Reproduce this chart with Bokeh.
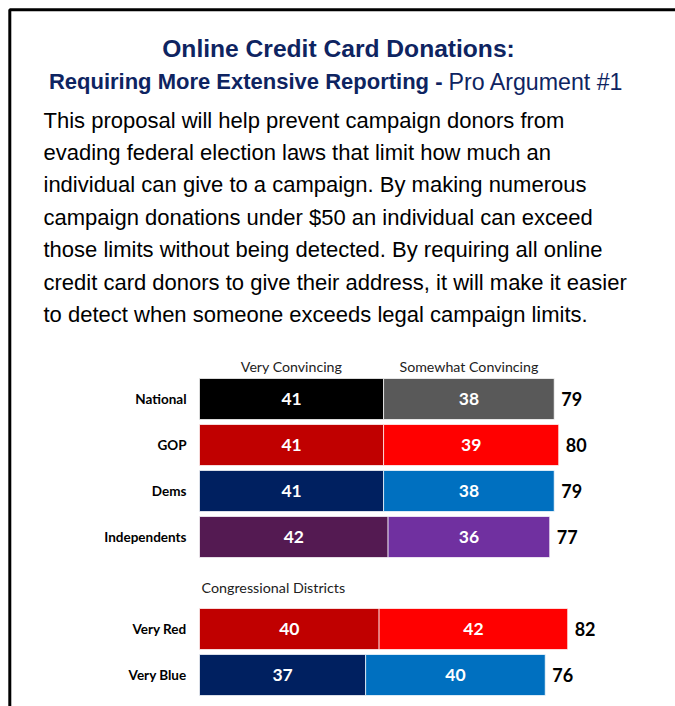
from bokeh.plotting import figure
from bokeh.models import Range1d, Label, BoxAnnotation, ColumnDataSource
from bokeh.core.properties import value
from bokeh.embed import file_html
from bokeh.resources import INLINE

# ---------------- data ----------------
groups = ["National", "GOP", "Dems", "Independents", "Very Red", "Very Blue"]
very = [41, 41, 41, 42, 40, 37]
somewhat = [38, 39, 38, 36, 42, 40]
totals = [79, 80, 79, 77, 82, 76]
series_names = ["Very Convincing", "Somewhat Convincing"]
section_label = "Congressional Districts"

title = "Online Credit Card Donations:"
subtitle_bold = "Requiring More Extensive Reporting -"
subtitle_normal = "Pro Argument #1"
body_lines = [
    "This proposal will help prevent campaign donors from",
    "evading federal election laws that limit how much an",
    "individual can give to a campaign. By making numerous",
    "campaign donations under $50 an individual can exceed",
    "those limits without being detected.  By requiring all online",
    "credit card donors to give their address, it will make it easier",
    "to detect when someone exceeds legal campaign limits.",
]

# ---------------- styles / layout ----------------
very_colors = ["#000000", "#C00000", "#002060", "#541A52", "#C00000", "#002060"]
some_colors = ["#595959", "#FF0000", "#0070C0", "#7030A0", "#FF0000", "#0070C0"]
slots = [0, 1, 2, 3, 5, 6]

W, H = 675, 706
px_per_unit = 4.49
x0_px = 199.0
row0 = 398.5
pitch = 46.0
bar_h = 41.0

x_start = -x0_px / px_per_unit
x_end = (W - x0_px) / px_per_unit

p = figure(width=W, height=H, x_range=Range1d(x_start, x_end), y_range=Range1d(H, 0),
           output_backend="svg", toolbar_location=None, min_border=0,
           x_axis_type=None, y_axis_type=None)
p.grid.visible = False
p.outline_line_color = None
p.background_fill_color = "white"
p.border_fill_color = "white"

ys = [row0 + pitch * s for s in slots]

seg = ColumnDataSource(dict(
    y=ys + ys,
    left=[0] * len(very) + very,
    right=very + [v + s for v, s in zip(very, somewhat)],
    color=very_colors + some_colors,
    label=[str(v) for v in very] + [str(s) for s in somewhat],
    mid=[v / 2 for v in very] + [v + s / 2 for v, s in zip(very, somewhat)],
))
p.hbar(y="y", left="left", right="right", height=bar_h, fill_color="color",
       line_color="white", line_alpha=0.7, line_width=1, source=seg)
p.text(x="mid", y="y", text="label", source=seg, text_color="white",
       text_font=value("Lato"), text_font_style="bold", text_font_size="17.5px",
       text_align="center", text_baseline="middle")

tot = ColumnDataSource(dict(
    y=ys, x=[v + s for v, s in zip(very, somewhat)], label=[str(t) for t in totals]))
p.text(x="x", y="y", text="label", source=tot, x_offset=7, text_color="black",
       text_font=value("Lato"), text_font_style="bold", text_font_size="18px",
       text_align="left", text_baseline="middle")

cat = ColumnDataSource(dict(y=ys, x=[0] * len(ys), label=groups))
p.text(x="x", y="y", text="label", source=cat, x_offset=-13, text_color="black",
       text_font=value("Lato"), text_font_style="bold", text_font_size="13.5px",
       text_align="right", text_baseline="middle")

hdr = ColumnDataSource(dict(
    x=[very[0] / 2, very[0] + somewhat[0] / 2],
    y=[ys[0] - 33] * 2, label=series_names))
p.text(x="x", y="y", text="label", source=hdr, text_color="#222222",
       text_font=value("Lato"), text_font_size="14.2px",
       text_align="center", text_baseline="middle")

p.add_layout(Label(x=x0_px + 2, y=587, x_units="screen", y_units="data", text=section_label,
                   text_font="Lato", text_font_size="14.3px", text_color="#222222",
                   text_align="left", text_baseline="middle"))

# titles
navy = "#0E2461"
p.add_layout(Label(x=338, y=48, x_units="screen", y_units="data", text=title,
                   text_font="Liberation Sans", text_font_style="bold", text_font_size="24.6px",
                   text_color=navy, text_align="center", text_baseline="middle"))
p.add_layout(Label(x=442, y=81, x_units="screen", y_units="data", text=subtitle_bold,
                   text_font="Liberation Sans", text_font_style="bold", text_font_size="22px",
                   text_color=navy, text_align="right", text_baseline="middle"))
p.add_layout(Label(x=448, y=81, x_units="screen", y_units="data", text=subtitle_normal,
                   text_font="Liberation Sans", text_font_size="23.2px",
                   text_color=navy, text_align="left", text_baseline="middle"))

for i, line in enumerate(body_lines):
    p.add_layout(Label(x=43, y=119.5 + 32.45 * i, x_units="screen", y_units="data", text=line,
                       text_font="Liberation Sans", text_font_size="22px",
                       text_color="black", text_align="left", text_baseline="middle"))

# frame lines (left and top)
p.add_layout(BoxAnnotation(left=x_start + 9.3 / px_per_unit, right=x_end + 20,
                           top=9.3, bottom=H + 40, fill_alpha=0, fill_color=None,
                           line_color="black", line_width=3, line_alpha=1))

open("out.html", "w").write(file_html(p, INLINE))
